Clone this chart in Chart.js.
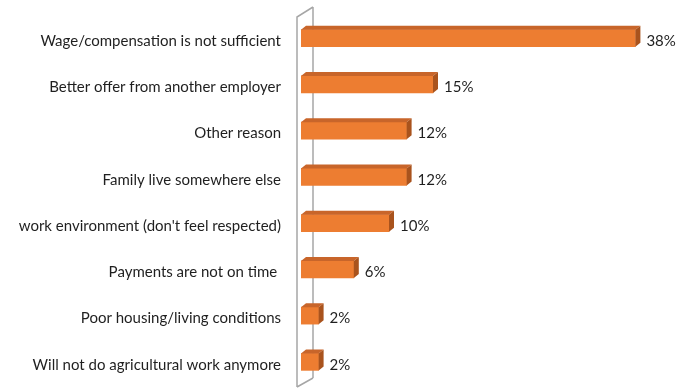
<!DOCTYPE html>
<html>
<head>
<meta charset="utf-8">
<script src="https://cdn.jsdelivr.net/npm/chart.js@4/dist/chart.umd.min.js"></script>
<style>
  html, body { margin: 0; padding: 0; background: #fff; overflow: hidden; }
  canvas { display: block; }
</style>
</head>
<body>
<canvas id="reasons" width="690" height="389"></canvas>
<script>
// reasons for leaving (share of answers, %)
const categories = [
    'Wage/compensation is not sufficient',
    'Better offer from another employer',
    'Other reason',
    'Family live somewhere else',
    "work environment (don't feel respected)",
    'Payments are not on time ',
    'Poor housing/living conditions',
    'Will not do agricultural work anymore'
];
const shares = [38, 15, 12, 12, 10, 6, 2, 2];
const axisMin = 0;
const axisMax = 40;

const FONT = 'Lato, "Open Sans", sans-serif';
const TEXT = '#1f1f1f';

// 3D look: wall lines + top/side faces of bars + value labels
const bar3d = {
    id: 'bar3d',
    beforeDatasetsDraw(chart) {
        const ctx = chart.ctx;
        const area = chart.chartArea;
        const x0 = chart.scales.x.getPixelForValue(0);
        const fx = x0 - 4, bx = x0 + 12;
        ctx.save();
        ctx.strokeStyle = '#a6a6a6';
        ctx.lineWidth = 1.5;
        ctx.beginPath();
        ctx.moveTo(bx, area.bottom - 7);
        ctx.lineTo(bx, area.top - 8);
        ctx.moveTo(fx, area.bottom + 2);
        ctx.lineTo(fx, area.top + 2);
        ctx.lineTo(bx, area.top - 8);
        ctx.moveTo(fx, area.bottom + 2);
        ctx.lineTo(bx, area.bottom - 7);
        ctx.stroke();
        ctx.restore();
    },
    afterDatasetsDraw(chart) {
        const ctx = chart.ctx;
        const meta = chart.getDatasetMeta(0);
        const dx = 5, dy = 4;
        ctx.save();
        meta.data.forEach((bar, i) => {
            const p = bar.getProps(['x', 'y', 'base', 'height'], true);
            const top = p.y - p.height / 2, bottom = p.y + p.height / 2;
            // top face
            ctx.fillStyle = '#c8652a';
            ctx.beginPath();
            ctx.moveTo(p.base, top);
            ctx.lineTo(p.base + dx, top - dy);
            ctx.lineTo(p.x + dx, top - dy);
            ctx.lineTo(p.x, top);
            ctx.closePath();
            ctx.fill();
            // side face
            ctx.fillStyle = '#a9531d';
            ctx.beginPath();
            ctx.moveTo(p.x, top);
            ctx.lineTo(p.x + dx, top - dy);
            ctx.lineTo(p.x + dx, bottom - dy);
            ctx.lineTo(p.x, bottom);
            ctx.closePath();
            ctx.fill();
            // value label
            ctx.fillStyle = TEXT;
            ctx.font = '15px ' + FONT;
            ctx.textAlign = 'left';
            ctx.textBaseline = 'middle';
            ctx.fillText(shares[i] + '%', p.x + dx + 6, p.y + 3);
        });
        ctx.restore();
    }
};

new Chart(document.getElementById('reasons'), {
    type: 'bar',
    data: {
        labels: categories,
        datasets: [{
            data: shares,
            backgroundColor: '#ed7d31',
            borderWidth: 0,
            barThickness: 17
        }]
    },
    options: {
        indexAxis: 'y',
        responsive: false,
        animation: false,
        layout: { padding: { top: 15, right: 37, bottom: 4, left: 0 } },
        plugins: {
            legend: { display: false },
            tooltip: { enabled: false }
        },
        scales: {
            x: {
                display: false,
                min: axisMin,
                max: axisMax
            },
            y: {
                grid: { display: false, drawTicks: false },
                border: { display: false },
                afterFit: (scale) => {
                    scale.width = 301;
                    scale.paddingTop = 0;
                    scale.paddingBottom = 0;
                },
                ticks: {
                    color: TEXT,
                    padding: 20,
                    labelOffset: 3,
                    autoSkip: false,
                    font: { size: 15, family: FONT }
                }
            }
        }
    },
    plugins: [bar3d]
});
</script>
</body>
</html>
